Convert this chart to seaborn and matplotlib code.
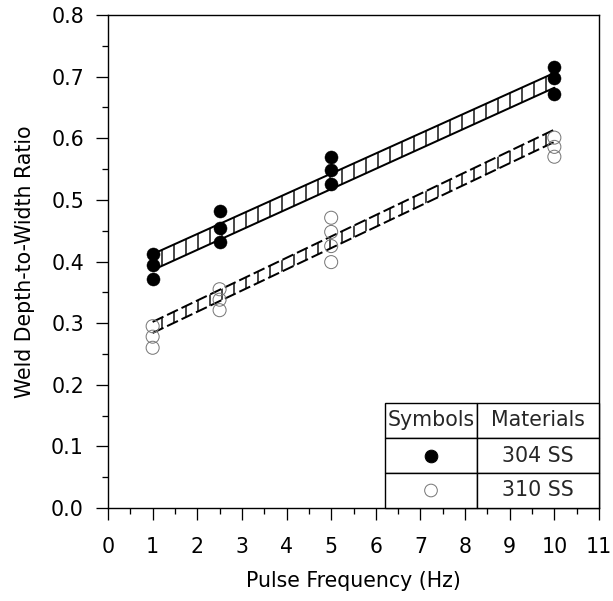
import numpy as np
import pandas as pd
import matplotlib
matplotlib.use("Agg")
import matplotlib.pyplot as plt
import seaborn as sns

# ---- data ----
freq_304 = [1, 1, 1, 2.5, 2.5, 2.5, 5, 5, 5, 10, 10, 10]
ratio_304 = [0.412, 0.395, 0.371, 0.482, 0.455, 0.432, 0.570, 0.549, 0.526, 0.715, 0.697, 0.671]
freq_310 = [1, 1, 1, 2.5, 2.5, 2.5, 5, 5, 5, 5, 10, 10, 10]
ratio_310 = [0.295, 0.278, 0.260, 0.355, 0.338, 0.321, 0.471, 0.448, 0.425, 0.399, 0.601, 0.586, 0.570]

band_x = [1, 10]
band_304_lo = [0.386, 0.682]
band_304_hi = [0.412, 0.706]
band_310_lo = [0.284, 0.594]
band_310_hi = [0.302, 0.614]

x_ticks = list(range(0, 12))
y_ticks = [0.0, 0.1, 0.2, 0.3, 0.4, 0.5, 0.6, 0.7, 0.8]
x_label = "Pulse Frequency (Hz)"
y_label = "Weld Depth-to-Width Ratio"
table_header = ["Symbols", "Materials"]
materials = ["304 SS", "310 SS"]

df304 = pd.DataFrame({"freq": freq_304, "ratio": ratio_304})
df310 = pd.DataFrame({"freq": freq_310, "ratio": ratio_310})

# ---- style ----
sns.set_theme(style="white")
plt.rcParams["font.family"] = ["DejaVu Sans"]
plt.rcParams["hatch.linewidth"] = 1.4
DPI = 72
FS = 20.5
FS_LAB = 20.5

fig = plt.figure(figsize=(613 / DPI, 601 / DPI), dpi=DPI)
ax = fig.add_axes([108 / 613, (601 - 508) / 601, (599 - 108) / 613, (508 - 15) / 601])

# bands
ax.fill_between(band_x, band_304_lo, band_304_hi, facecolor="none", edgecolor="black",
                hatch="|", linewidth=0, zorder=2)
ax.plot(band_x, band_304_lo, color="black", lw=2, zorder=3)
ax.plot(band_x, band_304_hi, color="black", lw=2, zorder=3)
ax.fill_between(band_x, band_310_lo, band_310_hi, facecolor="none", edgecolor="black",
                hatch="|", linewidth=0, zorder=2)
ax.plot(band_x, band_310_lo, color="black", lw=2, ls=(0, (6, 2)), zorder=3)
ax.plot(band_x, band_310_hi, color="black", lw=2, ls=(0, (6, 2)), zorder=3)

# points
sns.scatterplot(data=df304, x="freq", y="ratio", ax=ax, s=170, color="black",
                edgecolor="black", linewidth=0.5, zorder=4, legend=False)
sns.scatterplot(data=df310, x="freq", y="ratio", ax=ax, s=170, facecolor="none",
                edgecolor="#777777", linewidth=1.0, zorder=4, legend=False)

ax.set_xlim(0, 11)
ax.set_ylim(0, 0.8)
ax.set_xticks(x_ticks)
ax.set_xticks(np.arange(0.5, 11, 1.0), minor=True)
ax.set_yticks(y_ticks)
ax.set_yticks(np.arange(0.05, 0.8, 0.1), minor=True)
ax.set_yticklabels([f"{v:.1f}" for v in y_ticks])
ax.tick_params(axis="both", which="major", direction="out", length=12, width=1.3,
               labelsize=FS, color="black", labelcolor="black", bottom=True, left=True)
ax.tick_params(axis="both", which="minor", direction="out", length=6, width=1.3,
               color="black", bottom=True, left=True)
ax.tick_params(axis="x", which="major", pad=17)
ax.tick_params(axis="y", which="major", pad=12)
for sp in ax.spines.values():
    sp.set_color("black")
    sp.set_linewidth(1.4)

ax.set_xlabel(x_label, fontsize=FS_LAB, color="black", labelpad=14)
ax.set_ylabel(y_label, fontsize=FS_LAB, color="black", labelpad=16)

# table legend
tx0 = (385 - 108) / 491
tw = 1.0 - tx0
th = (508 - 403) / 493
w0 = (477 - 385) / 491
cell_text = [table_header, ["", materials[0]], ["", materials[1]]]
tbl = ax.table(cellText=cell_text, cellLoc="center",
               colWidths=[w0, tw - w0], bbox=[tx0, 0, tw, th], zorder=5)
tbl.auto_set_font_size(False)
tbl.set_fontsize(FS)
for cell in tbl.get_celld().values():
    cell.set_linewidth(1.4)
    cell.set_edgecolor("black")
    cell.set_facecolor("white")
    cell.PAD = 0.02

sym_x = tx0 + w0 / 2
row_h = th / 3
ax.scatter([sym_x], [row_h * 1.5], s=160, color="black", transform=ax.transAxes,
           zorder=6, clip_on=False)
ax.scatter([sym_x], [row_h * 0.5], s=160, facecolor="none", edgecolor="#777777",
           linewidth=1.0, transform=ax.transAxes, zorder=6, clip_on=False)

fig.savefig("out.png", dpi=DPI, facecolor="white")
